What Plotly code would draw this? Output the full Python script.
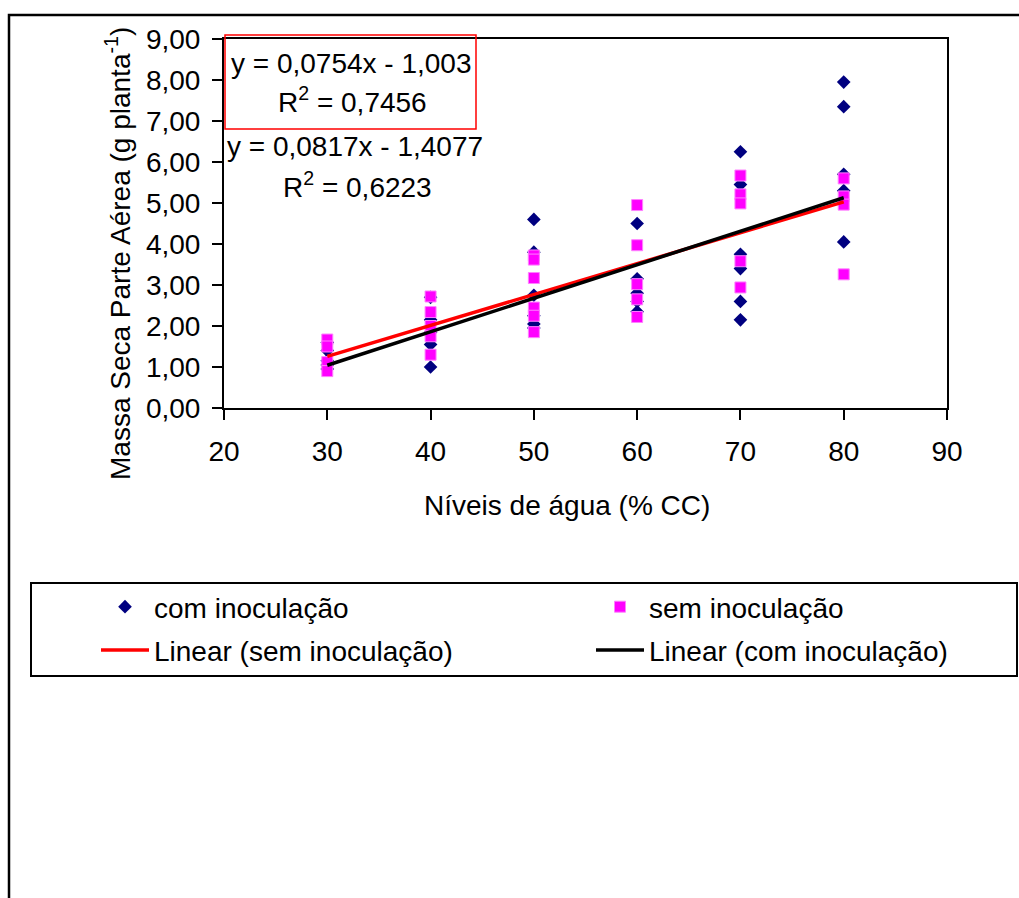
import plotly.graph_objects as go

# ---------------- data ----------------
COM_X = [30] * 5 + [40] * 5 + [50] * 6 + [60] * 5 + [70] * 6 + [80] * 5
COM_Y = [1.60, 1.40, 1.15, 1.05, 0.95,
         2.70, 2.15, 1.85, 1.55, 1.00,
         4.60, 3.80, 2.75, 2.25, 2.05, 1.95,
         4.50, 3.15, 2.80, 2.60, 2.35,
         6.25, 5.45, 3.75, 3.40, 2.60, 2.15,
         7.95, 7.35, 5.70, 5.30, 4.05]

SEM_X = [30] * 4 + [40] * 5 + [50] * 6 + [60] * 5 + [70] * 5 + [80] * 4
SEM_Y = [1.67, 1.50, 1.12, 0.90,
         2.72, 2.34, 2.00, 1.75, 1.30,
         3.72, 3.62, 3.17, 2.45, 2.25, 1.85,
         4.95, 3.97, 3.02, 2.65, 2.22,
         5.67, 5.21, 4.99, 3.58, 2.94,
         5.60, 5.16, 4.96, 3.26]

# linear trend coefficients (shown on the chart)
SEM_SLOPE, SEM_INTERCEPT = 0.0754, -1.003
COM_SLOPE, COM_INTERCEPT = 0.0817, -1.4077
FIT_X = [30, 80]

X_TICKS = [20, 30, 40, 50, 60, 70, 80, 90]
Y_TICKS = [0, 1, 2, 3, 4, 5, 6, 7, 8, 9]
Y_TICK_LABELS = ["0,00", "1,00", "2,00", "3,00", "4,00",
                 "5,00", "6,00", "7,00", "8,00", "9,00"]

EQ_SEM = ["y = 0,0754x - 1,003", "R<sup>2</sup> = 0,7456"]
EQ_COM = ["y = 0,0817x - 1,4077", "R<sup>2</sup> = 0,6223"]

# ---------------- layout geometry ----------------
W, H = 1019, 898
L, R, T, B = 224, 72, 39, 490
PW, PH = W - L - R, H - T - B
FONT = "Liberation Sans, Arial, sans-serif"
FS = 28


def px(x):
    return (x - L) / PW


def py(y):
    return (H - B - y) / PH


sem_fit = [SEM_SLOPE * x + SEM_INTERCEPT for x in FIT_X]
com_fit = [COM_SLOPE * x + COM_INTERCEPT for x in FIT_X]

fig = go.Figure()
fig.add_trace(go.Scatter(
    x=COM_X, y=COM_Y, mode="markers", name="com inoculação",
    marker=dict(symbol="diamond", size=10.5, color="#000080",
                line=dict(width=0)),
    legend="legend", legendgroup="a"))
fig.add_trace(go.Scatter(
    x=SEM_X, y=SEM_Y, mode="markers", name="sem inoculação",
    marker=dict(symbol="square", size=11, color="#FF00FF",
                line=dict(width=1, color="#FF80FF")),
    legend="legend2", legendgroup="b"))
fig.add_trace(go.Scatter(
    x=FIT_X, y=sem_fit, mode="lines", name="Linear (sem inoculação)",
    line=dict(color="#FF0000", width=3.5),
    legend="legend", legendgroup="c"))
fig.add_trace(go.Scatter(
    x=FIT_X, y=com_fit, mode="lines", name="Linear (com inoculação)",
    line=dict(color="#000000", width=3.5),
    legend="legend2", legendgroup="d"))

axis_common = dict(
    showgrid=False, zeroline=False, showline=True, linecolor="black",
    linewidth=2, mirror=True, ticks="outside", ticklen=10, tickwidth=1.5,
    tickcolor="black", tickfont=dict(family=FONT, size=FS, color="black"),
)

fig.update_xaxes(range=[20, 90], tickvals=X_TICKS, ticklabelstandoff=7,
                 **axis_common)
fig.update_yaxes(range=[0, 9], tickvals=Y_TICKS, ticktext=Y_TICK_LABELS,
                 ticklabelstandoff=6, **axis_common)

legend_common = dict(
    orientation="v", xanchor="left", yanchor="top", bgcolor="rgba(0,0,0,0)",
    borderwidth=0, itemwidth=48, traceorder="grouped", tracegroupgap=4,
    font=dict(family=FONT, size=FS, color="black"),
)


def label(x, y, text, angle=0):
    return dict(x=px(x), y=py(y), xref="paper", yref="paper", text=text,
                showarrow=False, xanchor="center", yanchor="middle",
                textangle=angle,
                font=dict(family=FONT, size=FS, color="black"))


annotations = [
    label(567, 506, "Níveis de água (% CC)"),
    label(118, 254, "Massa Seca Parte Aérea (g planta<sup>-1</sup>)", -90),
    label(351, 63, EQ_SEM[0]),
    label(352, 100, EQ_SEM[1]),
    label(355, 146, EQ_COM[0]),
    label(357, 185, EQ_COM[1]),
]

shapes = [
    # outer chart frame
    dict(type="rect", xref="paper", yref="paper", x0=px(9), x1=px(1040),
         y0=py(930), y1=py(15), line=dict(color="black", width=2.5)),
    # red box around first equation
    dict(type="rect", xref="paper", yref="paper", x0=px(225), x1=px(476),
         y0=py(129), y1=py(35), line=dict(color="#FF0000", width=1.5)),
    # legend box
    dict(type="rect", xref="paper", yref="paper", x0=px(31), x1=px(1017),
         y0=py(676), y1=py(583), line=dict(color="black", width=2)),
]

fig.update_layout(
    width=W, height=H, margin=dict(l=L, r=R, t=T, b=B),
    paper_bgcolor="white", plot_bgcolor="white",
    font=dict(family=FONT, size=FS, color="black"),
    legend=dict(x=px(96), y=py(582), **legend_common),
    legend2=dict(x=px(591), y=py(582), **legend_common),
    annotations=annotations, shapes=shapes,
)

fig.write_html("out.html")
